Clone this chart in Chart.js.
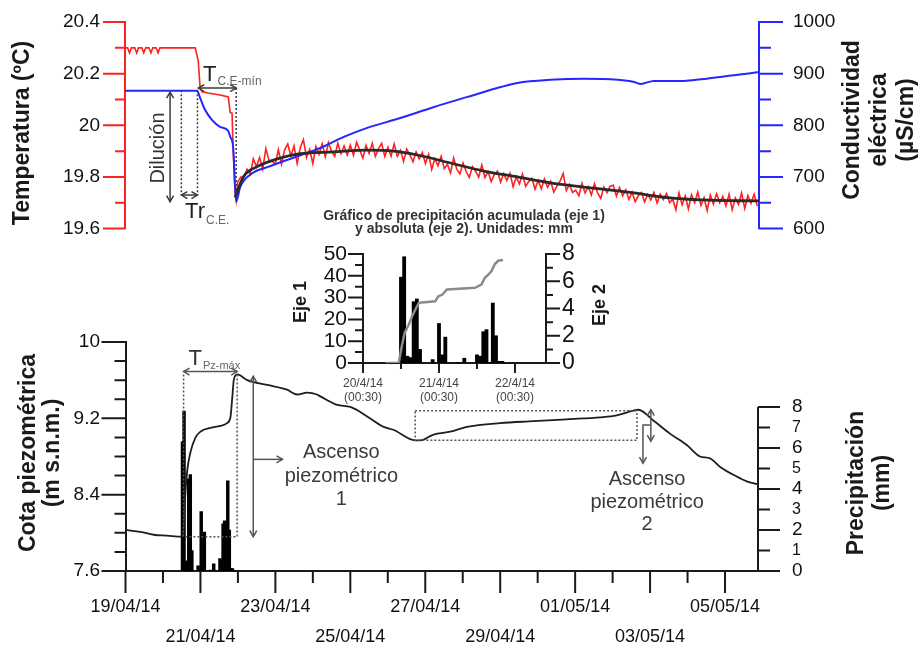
<!DOCTYPE html>
<html lang="es">
<head>
<meta charset="utf-8">
<title>Temperatura, conductividad y cota piezométrica</title>
<script src="https://cdn.jsdelivr.net/npm/chart.js@4.4.1/dist/chart.umd.min.js"></script>
<style>
  body { margin: 0; background: #fff; }
  #wrap { position: relative; width: 922px; height: 647px; overflow: hidden; background: #fff; }
  canvas { position: absolute; }
</style>
</head>
<body>
<div id="wrap">
  <canvas id="cTop" width="922" height="240" style="left:0;top:0"></canvas>
  <canvas id="cBottom" width="922" height="347" style="left:0;top:300px"></canvas>
  <canvas id="cInset" width="340" height="210" style="left:280px;top:200px"></canvas>
</div>
<script>
// ----------------------
// DATOS
// ----------------------
// eje temporal: días desde el 19/04/14 00:00
const daysMax = 16.88;

// temperatura (ºC) hasta el mínimo tras la crecida
const tempDays = [0, 0.07, 0.12, 0.17, 0.26, 0.31, 0.36, 0.45, 0.5, 0.55, 0.64, 0.69, 0.74, 0.83, 0.88, 0.93,
  1.87, 1.95, 2.0, 2.05, 2.21, 2.53, 2.75, 2.8, 2.85, 2.88, 2.93, 2.96];
const tempVals = [20.3, 20.3, 20.28, 20.3, 20.3, 20.28, 20.3, 20.3, 20.28, 20.3, 20.3, 20.28, 20.3, 20.3, 20.28, 20.3,
  20.3, 20.25, 20.145, 20.13, 20.125, 20.117, 20.11, 20.05, 20.047, 19.9, 19.74, 19.71];

// temperatura (ºC) registrada cada 2 horas desde el día 3
const tempLogStart = 3;
const tempLogStep = 1 / 12;
const tempLog = [
  19.78, 19.80, 19.80, 19.83, 19.81, 19.87, 19.84, 19.875, 19.83, 19.91, 19.865, 19.86,
  19.85, 19.905, 19.85, 19.905, 19.928, 19.88, 19.92, 19.852, 19.913, 19.944, 19.875, 19.906,
  19.852, 19.918, 19.888, 19.928, 19.878, 19.933, 19.899, 19.88, 19.93, 19.89, 19.92, 19.885,
  19.923, 19.884, 19.934, 19.904, 19.873, 19.922, 19.891, 19.93, 19.88, 19.91, 19.93, 19.88,
  19.915, 19.88, 19.928, 19.88, 19.903, 19.86, 19.908, 19.886, 19.859, 19.897, 19.87, 19.895,
  19.852, 19.888, 19.829, 19.871, 19.843, 19.88, 19.832, 19.849, 19.816, 19.873, 19.83, 19.812,
  19.854, 19.821, 19.798, 19.84, 19.822, 19.799, 19.846, 19.798, 19.82, 19.782, 19.81, 19.823,
  19.78, 19.813, 19.786, 19.814, 19.762, 19.80, 19.773, 19.811, 19.764, 19.782, 19.795, 19.753,
  19.786, 19.754, 19.792, 19.76, 19.783, 19.741, 19.765, 19.784, 19.813, 19.747, 19.771, 19.74,
  19.749, 19.727, 19.775, 19.738, 19.762, 19.73, 19.774, 19.738, 19.717, 19.761, 19.74, 19.764,
  19.768, 19.726, 19.759, 19.727, 19.75, 19.713, 19.741, 19.704, 19.727, 19.74, 19.703, 19.732,
  19.711, 19.74, 19.699, 19.733, 19.712, 19.736, 19.70, 19.714, 19.673, 19.738, 19.692, 19.727,
  19.676, 19.731, 19.70, 19.741, 19.69, 19.72, 19.67, 19.73, 19.695, 19.735, 19.70, 19.725,
  19.688, 19.733, 19.673, 19.718, 19.693, 19.738, 19.678, 19.728, 19.698, 19.733, 19.688
];

// ajuste de la temperatura (línea negra)
const fitDays = [2.93, 3.15, 3.52, 4.05, 4.67, 5.55, 6.45, 7.15, 7.79, 8.67, 9.55, 10.45, 11.33, 12.21, 13.12, 13.55, 14.45, 15.33, 16.88];
const fitVals = [19.72, 19.80, 19.84, 19.87, 19.89, 19.897, 19.904, 19.90, 19.885, 19.854, 19.823, 19.80, 19.777, 19.761, 19.746, 19.738, 19.72, 19.711, 19.707];

// conductividad eléctrica (µS/cm)
const ceDays = [0, 1.92, 2.0, 2.13, 2.32, 2.53, 2.75, 2.8, 2.88, 2.96, 3.07, 3.41, 3.79, 4.67, 5.2, 5.81, 6.45, 7.33,
  8.21, 9.12, 10.0, 10.45, 11.33, 12.21, 13.12, 13.55, 13.73, 14.08, 14.88, 15.33, 16.21, 16.88];
const ceVals = [867, 867, 853, 830, 810, 797, 789, 778, 758, 652, 681, 708, 719, 742, 756, 777, 795, 814,
  835, 855, 874, 882, 888, 890, 888, 884, 880, 886, 886, 889, 897, 903];

// cota piezométrica (m s.n.m.)
const piezoDays = [0, 0.4, 0.75, 1.12, 1.51, 1.55, 1.6, 1.65, 1.73, 1.87, 2.0, 2.27, 2.53, 2.71, 2.8, 2.85, 2.89, 2.98,
  3.25, 3.78, 4.31, 4.58, 4.85, 5.11, 5.2, 5.65, 6.0, 6.45, 6.89, 7.15, 7.73, 7.87, 8.22, 8.67, 9.11, 10.0, 10.89,
  11.78, 12.67, 13.11, 13.55, 13.69, 14.08, 14.53, 14.98, 15.33, 15.6, 15.87, 16.31, 16.58, 16.87];
const piezoVals = [8.03, 8.01, 7.98, 7.97, 7.96, 8.06, 8.42, 8.66, 8.84, 9.0, 9.06, 9.10, 9.12, 9.15, 9.21, 9.42, 9.60, 9.66,
  9.60, 9.55, 9.50, 9.45, 9.47, 9.45, 9.43, 9.34, 9.32, 9.22, 9.11, 9.08, 8.97, 8.97, 9.03, 9.06, 9.11, 9.15, 9.17,
  9.19, 9.21, 9.23, 9.28, 9.29, 9.18, 9.04, 8.92, 8.80, 8.78, 8.69, 8.59, 8.54, 8.51];

// precipitación horaria (mm), horas desde el 20/04/14 00:30
const rainStartDay = 1 + 0.5 / 24;
const rainHours = [12, 13, 14, 15, 16, 17, 18, 22, 24, 25, 26, 30, 32, 36, 37, 38, 39, 40, 41, 42, 43, 44];
const rainMm = [6.3, 7.8, 0.5, 0.4, 4.5, 4.7, 1.0, 0.25, 2.9, 0.6, 1.9, 0.05, 0.35, 0.6, 0.5, 2.3, 2.45, 0.05, 4.4, 2.0, 0.12, 0.12];

// precipitación acumulada (mm)
const cumHours = [7.1, 11.3, 12.3, 13.2, 14.4, 15.5, 16.5, 17.6, 18.6, 22.8, 23.8, 25.1, 26.5, 29.1, 35.4, 37.4, 38.5, 39.5, 40.6, 41.6, 42.7, 44.2];
const cumMm = [0, 0, 8.1, 14, 17.4, 21.3, 24.4, 27.5, 27.8, 28.3, 30.6, 31.4, 33.7, 34, 34.5, 36, 39.1, 40.4, 42.2, 45.3, 46.9, 47.2];
const insetHoursMax = 57.8;

// etiquetas de los ejes
const tempTicks = [19.6, 19.8, 20, 20.2, 20.4];
const ceTicks = [600, 700, 800, 900, 1000];
const piezoTicks = [7.6, 8.4, 9.2, 10];
const rainTicks = [0, 1, 2, 3, 4, 5, 6, 7, 8];
const cumTicks = [0, 10, 20, 30, 40, 50];
const absTicks = [0, 2, 4, 6, 8];
const dateTicks = [0, 2, 4, 6, 8, 10, 12, 14, 16];
const dateLabels = ['19/04/14', '21/04/14', '23/04/14', '25/04/14', '27/04/14', '29/04/14', '01/05/14', '03/05/14', '05/05/14'];
const insetDateTicks = [0, 24, 48];
const insetDateLabels = [['20/4/14', '(00:30)'], ['21/4/14', '(00:30)'], ['22/4/14', '(00:30)']];

// ----------------------
// ESTILO
// ----------------------
const FONT = '"Liberation Sans", Arial, Helvetica, sans-serif';
const RED = '#ff2020';
const BLUE = '#2626ff';
const INK = '#1a1a1a';
Chart.defaults.font.family = FONT;
Chart.defaults.color = '#111';

// ----------------------
// UTILIDADES
// ----------------------
const pts = (xs, ys) => xs.map((x, i) => ({ x, y: ys[i] }));

// eje vertical; la separación de las etiquetas va en tickLength (las marcas se dibujan aparte)
function yAxis(position, min, max, ticks, width, gap, color, size) {
  return {
    type: 'linear', position, min, max,
    afterBuildTicks: s => { s.ticks = ticks.map(v => ({ value: v })); },
    afterFit: s => { s.width = width; },
    grid: { display: false, drawTicks: true, tickLength: gap },
    border: { color, width: 2 },
    ticks: { padding: 0, autoSkip: false, color: '#111', font: { size }, callback: v => String(v) }
  };
}

// marcas de graduación: [valor, longitud]
function steps(from, step, count, longEvery, longLen, shortLen) {
  const out = [];
  for (let i = 0; i < count; i++) out.push([from + i * step, i % longEvery ? shortLen : longLen]);
  return out;
}

function marks(ctx, scale, list, color) {
  ctx.save();
  ctx.strokeStyle = color;
  ctx.lineWidth = 2;
  ctx.beginPath();
  list.forEach(([v, len]) => {
    const p = scale.getPixelForValue(v);
    if (scale.isHorizontal()) { ctx.moveTo(p, scale.top); ctx.lineTo(p, scale.top + len); }
    else if (scale.position === 'left') { ctx.moveTo(scale.right, p); ctx.lineTo(scale.right - len, p); }
    else { ctx.moveTo(scale.left, p); ctx.lineTo(scale.left + len, p); }
  });
  ctx.stroke();
  ctx.restore();
}

function vText(ctx, lines, x, y, font, gap, color) {
  ctx.save();
  ctx.translate(x, y);
  ctx.rotate(-Math.PI / 2);
  ctx.font = font;
  ctx.fillStyle = color;
  ctx.textAlign = 'center';
  ctx.textBaseline = 'middle';
  lines.forEach((t, i) => ctx.fillText(t, 0, i * gap));
  ctx.restore();
}

function cText(ctx, lines, x, ys, font, color) {
  ctx.save();
  ctx.font = font;
  ctx.fillStyle = color;
  ctx.textAlign = 'center';
  ctx.textBaseline = 'middle';
  lines.forEach((t, i) => ctx.fillText(t, x, ys[i]));
  ctx.restore();
}

function subText(ctx, main, sub, x, base, mainSize, subSize, drop, color) {
  ctx.save();
  ctx.textAlign = 'left';
  ctx.textBaseline = 'alphabetic';
  ctx.font = mainSize + 'px ' + FONT;
  ctx.fillStyle = color;
  ctx.fillText(main, x, base);
  const w = ctx.measureText(main).width;
  ctx.font = subSize + 'px ' + FONT;
  ctx.fillStyle = '#666';
  ctx.fillText(sub, x + w + 1, base + drop);
  ctx.restore();
}

function path(ctx, p, dash) {
  ctx.setLineDash(dash || []);
  ctx.beginPath();
  p.forEach(([x, y], i) => (i ? ctx.lineTo(x, y) : ctx.moveTo(x, y)));
  ctx.stroke();
  ctx.setLineDash([]);
}
const dotted = (ctx, p) => path(ctx, p, [2, 2]);

function head(ctx, x, y, ux, uy) {
  const L = 6, W = 3.5;
  ctx.beginPath();
  ctx.moveTo(x - ux * L - uy * W, y - uy * L + ux * W);
  ctx.lineTo(x, y);
  ctx.lineTo(x - ux * L + uy * W, y - uy * L - ux * W);
  ctx.stroke();
}

function arrow(ctx, x1, y1, x2, y2, both) {
  path(ctx, [[x1, y1], [x2, y2]]);
  const d = Math.hypot(x2 - x1, y2 - y1), ux = (x2 - x1) / d, uy = (y2 - y1) / d;
  head(ctx, x2, y2, ux, uy);
  if (both) head(ctx, x1, y1, -ux, -uy);
}

const baseOptions = () => ({
  responsive: false,
  animation: false,
  events: [],
  plugins: { legend: { display: false }, tooltip: { enabled: false } }
});

// ----------------------
// TEMPERATURA Y CONDUCTIVIDAD
// ----------------------
const tempSeries = pts(tempDays, tempVals)
  .concat(tempLog.map((v, i) => ({ x: tempLogStart + i * tempLogStep, y: v })));

const topDeco = {
  id: 'topDeco',
  afterDraw(chart) {
    const { ctx, scales: { x, yT, yC } } = chart;
    marks(ctx, yT, steps(19.6, 0.1, 9, 2, 22, 10), RED);
    marks(ctx, yC, steps(600, 50, 9, 2, 24, 12), BLUE);

    vText(ctx, ['Temperatura (ºC)'], 23, 133, 'bold 23px ' + FONT, 0, INK);
    vText(ctx, ['Conductividad', 'eléctrica', '(µS/cm)'], 853, 120, 'bold 23px ' + FONT, 27, INK);

    const X = d => x.getPixelForValue(d), C = v => yC.getPixelForValue(v);
    ctx.save();
    ctx.strokeStyle = '#3a3a3a';
    ctx.lineWidth = 1.5;
    // tiempo hasta el mínimo de conductividad
    arrow(ctx, X(1.95), C(872), X(2.96), C(872), true);
    dotted(ctx, [[X(2.96), C(872)], [X(2.96), C(655)]]);
    subText(ctx, 'T', 'C.E-mín', X(2.08), C(872) - 7.5, 22, 12, 4, '#222');
    // dilución
    arrow(ctx, X(1.2), C(864), X(1.2), C(652), true);
    vText(ctx, ['Dilución'], X(0.9), C(756), '20px ' + FONT, 0, '#333');
    // tiempo de respuesta
    dotted(ctx, [[X(1.5), C(868)], [X(1.5), C(665)]]);
    dotted(ctx, [[X(1.93), C(868)], [X(1.93), C(665)]]);
    arrow(ctx, X(1.5), C(665), X(1.93), C(665), true);
    subText(ctx, 'Tr', 'C.E.', X(1.6), C(665) + 23, 22, 12, 5.5, '#222');
    ctx.restore();
  }
};

new Chart(document.getElementById('cTop'), {
  type: 'line',
  data: {
    datasets: [
      { data: pts(fitDays, fitVals), yAxisID: 'yT', borderColor: '#2a2a2a', borderWidth: 2.8, pointRadius: 0, cubicInterpolationMode: 'monotone' },
      { data: pts(ceDays, ceVals), yAxisID: 'yC', borderColor: BLUE, borderWidth: 2, pointRadius: 0, cubicInterpolationMode: 'monotone' },
      { data: tempSeries, yAxisID: 'yT', borderColor: RED, borderWidth: 1.6, pointRadius: 0, tension: 0 }
    ]
  },
  options: {
    ...baseOptions(),
    layout: { padding: { top: 22, bottom: 11.3, left: 0, right: 0 }, autoPadding: false },
    scales: {
      x: { type: 'linear', min: 0, max: daysMax, display: false },
      yT: yAxis('left', 19.6, 20.4, tempTicks, 125, 25, RED, 19),
      yC: yAxis('right', 600, 1000, ceTicks, 163, 34, BLUE, 19)
    }
  },
  plugins: [topDeco]
});

// ----------------------
// COTA PIEZOMÉTRICA Y PRECIPITACIÓN
// ----------------------
const bottomDeco = {
  id: 'bottomDeco',
  afterDraw(chart) {
    const { ctx, scales: { x, yP, yR } } = chart;
    marks(ctx, yP, steps(7.6, 0.2, 13, 4, 24, 11), INK);
    marks(ctx, yR, steps(0, 1, 9, 2, 22, 12), INK);
    marks(ctx, x, steps(0, 1, 17, 2, 22, 12), INK);
    // eje de precipitación solo hasta 8 mm
    ctx.save();
    ctx.strokeStyle = INK;
    ctx.lineWidth = 2;
    path(ctx, [[yR.left, yR.getPixelForValue(0)], [yR.left, yR.getPixelForValue(8)]]);
    ctx.restore();

    vText(ctx, ['Cota piezométrica', '(m s.n.m.)'], 29, 153, 'bold 23px ' + FONT, 24, INK);
    vText(ctx, ['Precipitación', '(mm)'], 857, 183, 'bold 23px ' + FONT, 26, INK);

    const X = d => x.getPixelForValue(d), P = v => yP.getPixelForValue(v);
    ctx.save();
    ctx.strokeStyle = '#555';
    ctx.lineWidth = 1.5;
    // tiempo hasta la cota máxima
    dotted(ctx, [[X(1.55), P(9.66)], [X(1.55), P(7.96)], [X(2.98), P(7.96)], [X(2.98), P(9.66)]]);
    arrow(ctx, X(1.55), P(9.69), X(2.98), P(9.69), true);
    subText(ctx, 'T', 'Pz-máx', X(1.68), P(9.69) - 6.5, 22, 11, 3.5, '#333');
    // ascenso 1
    arrow(ctx, X(3.41), P(9.64), X(3.41), P(7.96), true);
    arrow(ctx, X(3.41), P(8.77), X(4.19), P(8.77), false);
    cText(ctx, ['Ascenso', 'piezométrico', '1'], X(5.76), [P(8.84), P(8.59), P(8.35)], '20px ' + FONT, '#3a3a3a');
    // ascenso 2
    dotted(ctx, [[X(7.73), P(9.28)], [X(13.65), P(9.28)], [X(13.65), P(8.97)], [X(7.73), P(8.97)], [X(7.73), P(9.28)]]);
    arrow(ctx, X(14.02), P(9.29), X(14.02), P(8.96), true);
    path(ctx, [[X(14.0), P(9.13)], [X(13.81), P(9.13)], [X(13.81), P(8.73)]]);
    head(ctx, X(13.81), P(8.73), 0, 1);
    cText(ctx, ['Ascenso', 'piezométrico', '2'], X(13.92), [P(8.56), P(8.32), P(8.09)], '20px ' + FONT, '#3a3a3a');
    ctx.restore();
  }
};

new Chart(document.getElementById('cBottom'), {
  type: 'line',
  data: {
    datasets: [
      { data: pts(piezoDays, piezoVals), yAxisID: 'yP', borderColor: '#1e1e1e', borderWidth: 1.8, pointRadius: 0, cubicInterpolationMode: 'monotone' },
      {
        type: 'bar', yAxisID: 'yR', backgroundColor: '#000', borderWidth: 0, barThickness: 2.8,
        data: rainHours.map((h, i) => ({ x: rainStartDay + h / 24, y: rainMm[i] }))
      }
    ]
  },
  options: {
    ...baseOptions(),
    layout: { padding: { top: 42, bottom: 0, left: 0, right: 0 }, autoPadding: false },
    scales: {
      x: {
        type: 'linear', min: 0, max: daysMax, offset: false,
        afterBuildTicks: s => { s.ticks = dateTicks.map(v => ({ value: v })); },
        afterFit: s => { s.height = 76; },
        grid: { display: false, drawTicks: true, tickLength: 21 },
        border: { color: INK, width: 2 },
        ticks: {
          padding: 0, autoSkip: false, maxRotation: 0, minRotation: 0, color: '#111',
          font: { size: 18, lineHeight: '30px' },
          callback: (v, i) => (i % 2 ? ['', dateLabels[i]] : dateLabels[i])
        }
      },
      yP: yAxis('left', 7.6, 10, piezoTicks, 125.5, 25.5, INK, 19),
      // 0–8 mm ocupa la parte baja del área del gráfico
      yR: {
        ...yAxis('right', 0, 8 * 229 / 164, rainTicks, 164, 34, INK, 19),
        border: { display: false },
        ticks: {
          padding: 0, autoSkip: false, color: '#111', callback: v => String(v),
          font: c => ({ size: c.tick && c.tick.value % 2 ? 16 : 19 })
        }
      }
    }
  },
  plugins: [bottomDeco]
});

// ----------------------
// RECUADRO: PRECIPITACIÓN 20–22/04
// ----------------------
const insetDeco = {
  id: 'insetDeco',
  afterDraw(chart) {
    const { ctx, scales: { x, y, y2 } } = chart;
    marks(ctx, y, steps(0, 5, 11, 2, 15, 8), INK);
    marks(ctx, y2, steps(0, 1, 9, 2, 14, 7), INK);
    marks(ctx, x, steps(0, 12, 5, 2, 10, 6), INK);
    vText(ctx, ['Eje 1'], 21, 102, 'bold 18px ' + FONT, 0, INK);
    vText(ctx, ['Eje 2'], 320, 105, 'bold 18px ' + FONT, 0, INK);
  }
};

const insetOptions = baseOptions();
insetOptions.plugins.title = {
  display: true,
  text: ['Gráfico de precipitación acumulada (eje 1)', 'y absoluta (eje 2). Unidades: mm'],
  color: '#333',
  font: { size: 14, weight: 'bold', lineHeight: '13px' },
  padding: { top: 0, bottom: 18 }
};

new Chart(document.getElementById('cInset'), {
  type: 'line',
  data: {
    datasets: [
      { data: pts(cumHours, cumMm), yAxisID: 'y', borderColor: '#8a8a8a', borderWidth: 2.5, pointRadius: 0, tension: 0 },
      {
        type: 'bar', yAxisID: 'y2', backgroundColor: '#000', borderWidth: 0, barPercentage: 1, categoryPercentage: 1,
        data: pts(rainHours, rainMm)
      }
    ]
  },
  options: {
    ...insetOptions,
    layout: { padding: { top: 10, bottom: 0, left: 28, right: 0 }, autoPadding: false },
    scales: {
      x: {
        type: 'linear', min: 0, max: insetHoursMax, offset: false,
        afterBuildTicks: s => { s.ticks = insetDateTicks.map(v => ({ value: v })); },
        afterFit: s => { s.height = 47; },
        grid: { display: false, drawTicks: true, tickLength: 14 },
        border: { color: INK, width: 2 },
        ticks: {
          padding: 0, autoSkip: false, maxRotation: 0, minRotation: 0, color: '#444',
          font: { size: 12, lineHeight: '14px' },
          callback: (v, i) => insetDateLabels[i]
        }
      },
      y: yAxis('left', 0, 50, cumTicks, 55, 16, INK, 21),
      y2: yAxis('right', 0, 8, absTicks, 74, 16, INK, 23)
    }
  },
  plugins: [insetDeco]
});
</script>
</body>
</html>
